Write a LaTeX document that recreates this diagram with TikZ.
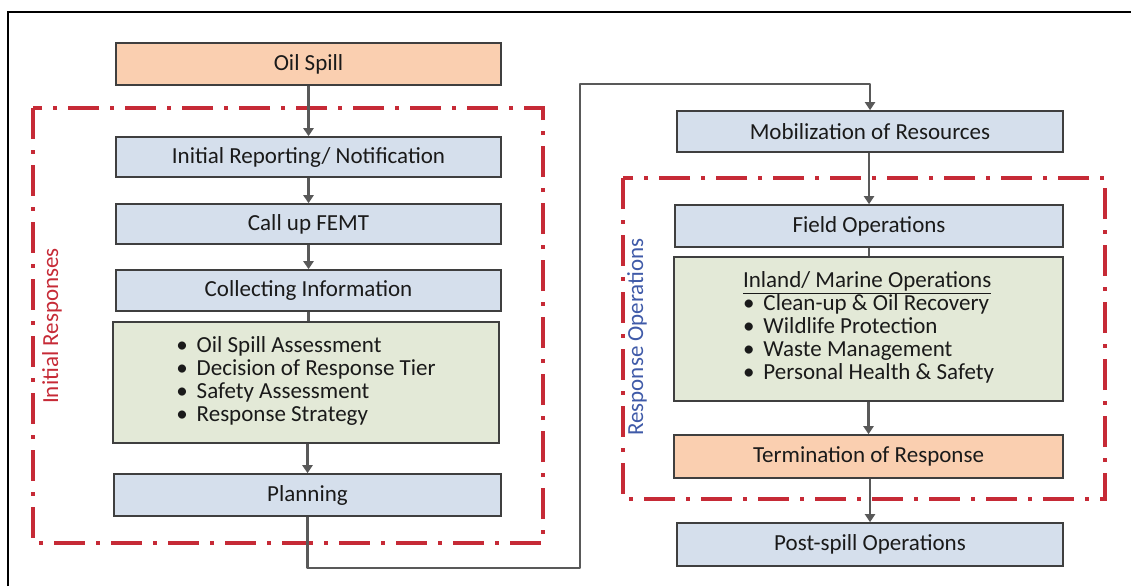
\documentclass[tikz,border=0pt]{standalone}
\usepackage{fontspec}
\setmainfont{Carlito}
\usetikzlibrary{arrows.meta,shadows}

\definecolor{boxblue}{HTML}{D5DFEC}
\definecolor{boxgreen}{HTML}{E3E9D7}
\definecolor{boxpeach}{HTML}{FACFB0}
\definecolor{boxedge}{HTML}{3F3F3F}
\definecolor{linkgray}{HTML}{595959}
\definecolor{phasered}{HTML}{C62A36}
\definecolor{phaseblue}{HTML}{3F5AA8}
\definecolor{txt}{HTML}{1A1A1A}

\tikzset{
  stepbox/.style={draw=boxedge, line width=1.6pt, text=txt,
    font=\fontsize{23}{23}\selectfont, inner sep=0pt,
    drop shadow={shadow xshift=1.2pt, shadow yshift=-1.2pt, fill=black, opacity=0.35}},
  bluebox/.style={stepbox, fill=boxblue},
  greenbox/.style={stepbox, fill=boxgreen},
  peachbox/.style={stepbox, fill=boxpeach},
  link/.style={draw=linkgray, line width=2.6pt},
  arrowlink/.style={link, -{Triangle[length=8pt,width=10pt]}},
  phaseframe/.style={draw=phasered, line width=3.4pt,
    dash pattern=on 31pt off 11pt on 4pt off 11pt},
  phaselabel/.style={rotate=90, font=\fontsize{23}{23}\selectfont}
}

\begin{document}
\begin{tikzpicture}[x=1pt,y=-1pt]
\useasboundingbox (0,0) rectangle (1131,586);

% outer frame (top and left edges)
\draw[line width=2pt, black] (8,586) -- (8,12) -- (1131,12);

% phase frames
\draw[phaseframe] (33,108) rectangle (543,543);
\draw[phaseframe] (623,178) rectangle (1105,499);
\node[phaselabel, text=phasered] (lblinit) at (52,326) {Initial Responses};
\node[phaselabel, text=phaseblue] (lblresp) at (637,337) {Response Operations};

% left column
\node[peachbox, minimum width=385pt, minimum height=42pt] (oil) at (308.5,64) {Oil Spill};
\node[bluebox, minimum width=385pt, minimum height=40pt] (irn) at (308.5,157) {Initial Reporting/ Notification};
\node[bluebox, minimum width=385pt, minimum height=40pt] (femt) at (308.5,224) {Call up FEMT};
\node[bluebox, minimum width=385pt, minimum height=41pt] (coll) at (308.5,290.5) {Collecting Information};
\node[greenbox, minimum width=386pt, minimum height=121pt] (assess) at (306,382.5) {%
  \begin{tabular}{@{}l@{\hspace{9pt}}l@{}}
  \textbullet & Oil Spill Assessment\\
  \textbullet & Decision of Response Tier\\
  \textbullet & Safety Assessment\\
  \textbullet & Response Strategy
  \end{tabular}};
\node[bluebox, minimum width=387pt, minimum height=42pt] (plan) at (307.5,495) {Planning};

% right column
\node[bluebox, minimum width=386pt, minimum height=41pt] (mob) at (870,131.5) {Mobilization of Resources};
\node[bluebox, minimum width=388pt, minimum height=42pt] (field) at (869,226) {Field Operations};
\node[greenbox, minimum width=389pt, minimum height=144pt] (marine) at (868.5,329) {%
  \begin{tabular}{@{}l@{\hspace{9pt}}l@{}}
  \multicolumn{2}{@{}l@{}}{\underline{Inland/ Marine Operations}}\\
  \textbullet & Clean-up \& Oil Recovery\\
  \textbullet & Wildlife Protection\\
  \textbullet & Waste Management\\
  \textbullet & Personal Health \& Safety
  \end{tabular}};
\node[peachbox, minimum width=389pt, minimum height=43pt] (term) at (868.5,456.5) {Termination of Response};
\node[bluebox, minimum width=386pt, minimum height=43pt] (post) at (870,544.5) {Post-spill Operations};

% connectors, left column
\draw[arrowlink] (oil.south) -- (irn.north);
\draw[arrowlink] (irn.south) -- (femt.north);
\draw[arrowlink] (femt.south) -- (coll.north);
\draw[link] (coll.south) -- (coll.south |- assess.north);
\draw[arrowlink] (assess.south -| plan.north) -- (plan.north);

% connector from planning over to mobilization
\coordinate (lowrail) at (580,568);
\coordinate (highrail) at (580,84);
\draw[arrowlink, line join=round] (plan.south) |- (lowrail) -- (highrail) -| (mob.north);

% connectors, right column
\draw[arrowlink] (mob.south -| field.north) -- (field.north);
\draw[link] (field.south) -- (field.south |- marine.north);
\draw[arrowlink] (marine.south) -- (term.north);
\draw[arrowlink] (term.south -| post.north) -- (post.north);
\end{tikzpicture}
\end{document}
